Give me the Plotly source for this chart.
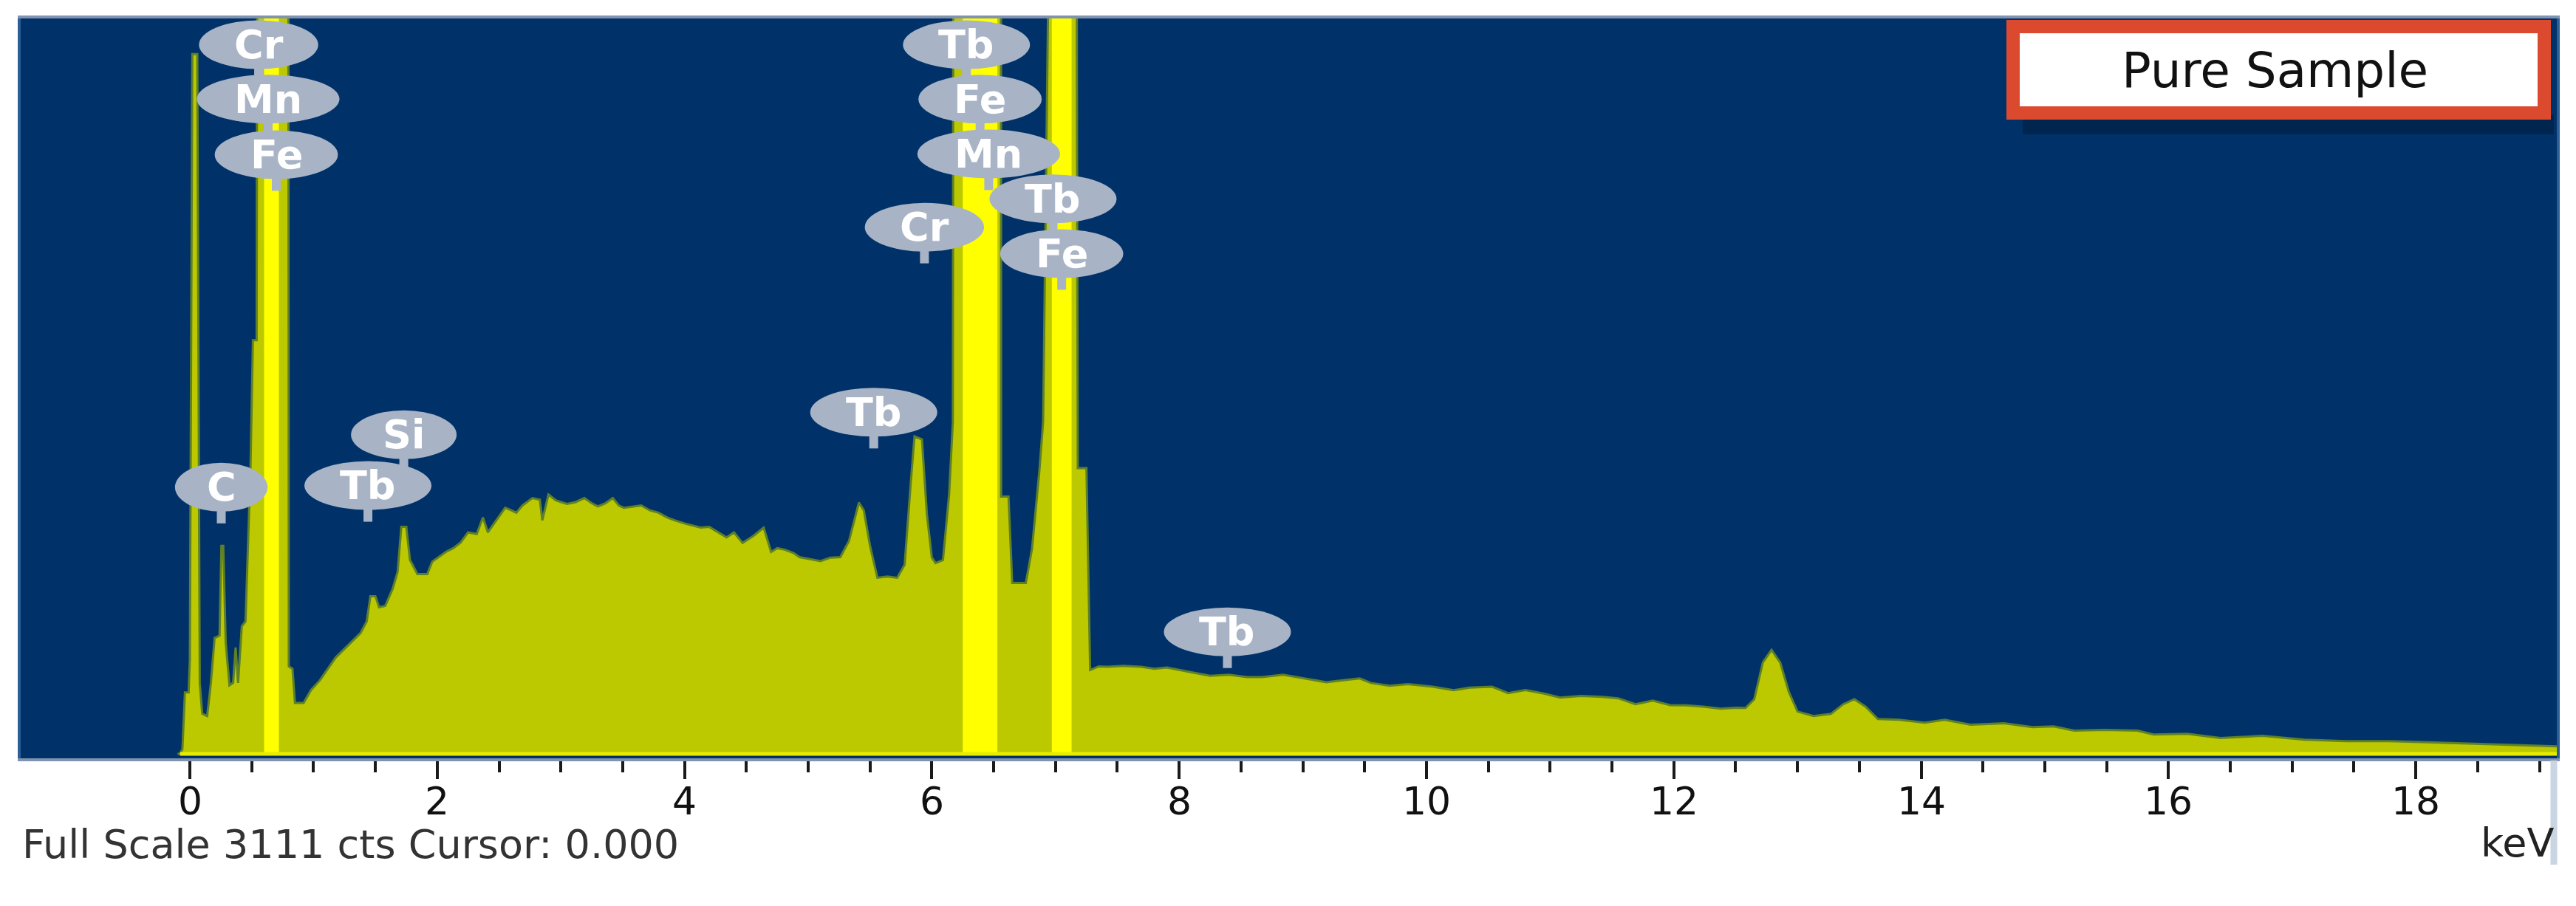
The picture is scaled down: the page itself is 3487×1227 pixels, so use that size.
import plotly.graph_objects as go

# ---------------- data ----------------
full_scale = 3111  # cts

energy_kev = [
    -0.10, -0.08, -0.06, -0.04, -0.01, 0.00, 0.02, 0.06, 0.08, 0.10, 0.14, 0.17, 0.20, 0.24,
    0.255, 0.27, 0.29, 0.32, 0.35, 0.37, 0.39, 0.42, 0.45, 0.47, 0.49, 0.51, 0.54, 0.56,
    0.79, 0.80, 0.83, 0.85, 0.92, 0.98, 1.05, 1.18, 1.28, 1.38, 1.43, 1.46, 1.50, 1.53,
    1.58, 1.64, 1.68, 1.71, 1.75, 1.78, 1.80, 1.84, 1.92, 1.96, 2.07, 2.13, 2.19, 2.25,
    2.32, 2.37, 2.41, 2.48, 2.55, 2.60, 2.64, 2.69, 2.77, 2.83, 2.85, 2.90, 2.96, 3.05,
    3.12, 3.19, 3.25, 3.30, 3.36, 3.42, 3.47, 3.51, 3.58, 3.65, 3.72, 3.79, 3.86, 3.92,
    4.01, 4.07, 4.13, 4.20, 4.24, 4.34, 4.40, 4.47, 4.56, 4.64, 4.70, 4.75, 4.81, 4.88,
    4.93, 5.02, 5.10, 5.18, 5.26, 5.33, 5.38, 5.41, 5.45, 5.50, 5.56, 5.64, 5.72, 5.78,
    5.83, 5.86, 5.92, 5.96, 6.00, 6.03, 6.09, 6.14, 6.17, 6.21, 6.55, 6.56, 6.62, 6.65,
    6.76, 6.81, 6.87, 6.90, 6.95, 7.17, 7.18, 7.25, 7.28, 7.35, 7.42, 7.55, 7.69, 7.80,
    7.90, 7.99, 8.10, 8.25, 8.40, 8.55, 8.67, 8.84, 9.01, 9.19, 9.30, 9.46, 9.55, 9.70,
    9.85, 10.05, 10.22, 10.35, 10.53, 10.66, 10.80, 10.95, 11.08, 11.25, 11.42, 11.55,
    11.69, 11.83, 11.97, 12.10, 12.24, 12.38, 12.50, 12.58, 12.65, 12.72, 12.79, 12.86,
    12.93, 13.00, 13.13, 13.27, 13.37, 13.46, 13.55, 13.65, 13.82, 14.03, 14.19, 14.40,
    14.67, 14.90, 15.07, 15.24, 15.48, 15.75, 15.88, 16.15, 16.42, 16.76, 17.10, 17.44,
    17.78, 18.12, 18.45, 18.79, 19.14,
]
counts = [
    0, 0, 20, 260, 260, 400, 2960, 2960, 300, 170, 160, 300, 490, 500,
    880, 880, 470, 290, 300, 450, 300, 540, 560, 900, 1200, 1750, 1750, 9500,
    9500, 370, 360, 215, 215, 270, 310, 408, 460, 511, 560, 667, 667, 620,
    626, 698, 770, 960, 960, 820, 801, 760, 760, 813, 854, 870, 894, 937,
    930, 1000, 937, 988, 1041, 1030, 1020, 1051, 1082, 1075, 988, 1097, 1072, 1057,
    1065, 1082, 1060, 1047, 1060, 1082, 1050, 1041, 1045, 1051, 1030, 1020, 1000, 988,
    973, 965, 957, 960, 947, 916, 937, 892, 923, 957, 854, 870, 864, 850,
    832, 823, 815, 830, 832, 900, 1000, 1063, 1030, 880, 745, 750, 745, 800,
    1150, 1343, 1330, 1013, 830, 807, 820, 1100, 1406, 26000, 26000, 1088, 1088, 723,
    723, 867, 1200, 1406, 3600, 3600, 1209, 1209, 355, 370, 368, 372, 368, 360,
    365, 355, 345, 330, 335, 325, 325, 335, 320, 303, 310, 319, 300, 288,
    295, 284, 269, 280, 284, 257, 270, 255, 238, 245, 241, 235,
    210, 225, 206, 205, 200, 191, 195, 194, 231, 387, 440, 387,
    262, 179, 160, 169, 210, 231, 200, 147, 144, 132, 144, 123,
    129, 113, 116, 98, 101, 98, 82, 85, 67, 76, 60, 54,
    54, 48, 42, 36, 32,
]

# saturated peak cores (drawn bright yellow)
core_lo_kev = [0.60, 6.25, 6.97]
core_hi_kev = [0.72, 6.53, 7.13]
core_counts = [9500, 26000, 3600]

# element markers
label_text = ["Cr", "Mn", "Fe", "C", "Tb", "Si", "Tb", "Cr", "Tb", "Fe", "Mn", "Tb", "Fe", "Tb"]
label_kev = [0.556, 0.633, 0.699, 0.254, 1.44, 1.73, 5.53, 5.94, 6.28, 6.39, 6.46, 6.98, 7.05, 8.39]
label_level = [3000, 2770, 2535, 1128, 1135, 1350, 1445, 2228, 3000, 2770, 2538, 2348, 2116, 516]

tick_vals = [0, 2, 4, 6, 8, 10, 12, 14, 16, 18]
tick_text = ["0", "2", "4", "6", "8", "10", "12", "14", "16", "18"]
minor_step = 0.5
x_range = [-1.368, 19.14]
y_range = [-19, full_scale]

legend_title = "Pure Sample"
footer_text = f"Full Scale {full_scale} cts Cursor: 0.000"
unit_text = "keV"

# ---------------- styling / layout ----------------
W, H = 3487, 1227
ML, MR, MT, MB = 20, 34, 17, 208
PW, PH = W - ML - MR, H - MT - MB
kev_per_px = (x_range[1] - x_range[0]) / PW
cnt_per_px = (y_range[1] - y_range[0]) / PH

BG = "#003269"
FILL = "#BCC800"
EDGE = "#5E8028"
CORE = "#FFFF00"
BUBBLE = "#A8B4C6"
FONT = "DejaVu Sans"

fig = go.Figure()

fig.add_trace(go.Scatter(
    x=energy_kev, y=counts, mode="lines", fill="tozeroy",
    fillcolor=FILL, line=dict(color=EDGE, width=3), hoverinfo="skip",
))
for lo, hi, c in zip(core_lo_kev, core_hi_kev, core_counts):
    fig.add_trace(go.Scatter(
        x=[lo, lo, hi, hi], y=[0, c, c, 0], mode="lines", fill="toself",
        fillcolor=CORE, line=dict(width=0, color=CORE), hoverinfo="skip",
    ))
fig.add_trace(go.Scatter(
    x=[energy_kev[1], energy_kev[-1]], y=[0, 0], mode="lines",
    line=dict(color="#E8EC00", width=5), hoverinfo="skip",
))

shapes = []
annotations = []


def px_x(p):
    return (p - ML) / PW


def px_y(p):
    return (H - MB - p) / PH


# element bubbles
char_w = {"C": .72, "r": .41, "M": .86, "n": .63, "F": .57, "e": .62, "T": .61, "b": .64, "S": .64, "i": .28}
for t, k, lv in zip(label_text, label_kev, label_level):
    wpx = 62 + 88 * sum(char_w.get(c, .6) for c in t)
    hw = wpx / 2 * kev_per_px
    hh = 33 * cnt_per_px
    shapes.append(dict(type="rect", xref="x", yref="y",
                       x0=k - 6 * kev_per_px, x1=k + 6 * kev_per_px,
                       y0=lv - hh - 16 * cnt_per_px, y1=lv - hh + 4 * cnt_per_px,
                       fillcolor=BUBBLE, line=dict(width=0)))
    shapes.append(dict(type="circle", xref="x", yref="y",
                       x0=k - hw, x1=k + hw, y0=lv - hh, y1=lv + hh,
                       fillcolor=BUBBLE, line=dict(width=0)))
    annotations.append(dict(x=k, y=lv, xref="x", yref="y", text=t, showarrow=False,
                            font=dict(family=FONT, size=54, color="white", weight="bold"),
                            xanchor="center", yanchor="middle"))

# tick labels of the energy axis
for v, s in zip(tick_vals, tick_text):
    annotations.append(dict(x=v, y=px_y(1077), xref="x", yref="paper", text=s,
                            showarrow=False, xanchor="center", yanchor="middle",
                            font=dict(family=FONT, size=52, color="#111111")))

# legend box "Pure Sample"
shapes.append(dict(type="rect", xref="paper", yref="paper",
                   x0=px_x(2730), x1=px_x(3449), y0=px_y(174), y1=px_y(148),
                   fillcolor="#001B3A", opacity=0.55, line=dict(width=0)))
shapes.append(dict(type="rect", xref="paper", yref="paper",
                   x0=px_x(2717), x1=px_x(3436), y0=px_y(145), y1=px_y(28),
                   fillcolor="white", line=dict(color="#DB4A2E", width=18)))
annotations.append(dict(x=px_x(3071), y=px_y(88), xref="paper", yref="paper",
                        text=legend_title, showarrow=False,
                        font=dict(family=FONT, size=66, color="#111111"),
                        xanchor="center", yanchor="middle"))

# light frame strip at the lower right
shapes.append(dict(type="line", xref="paper", yref="paper",
                   x0=px_x(3449), x1=px_x(3449), y0=px_y(1022), y1=px_y(1163),
                   line=dict(color="#C9D5E2", width=9)))

annotations.append(dict(x=0, y=px_y(1135), xref="paper", yref="paper",
                        text=footer_text, showarrow=False,
                        font=dict(family=FONT, size=54, color="#333333"),
                        xanchor="left", yanchor="middle"))
annotations.append(dict(x=px_x(3452), y=px_y(1133), xref="paper", yref="paper",
                        text=unit_text, showarrow=False,
                        font=dict(family=FONT, size=54, color="#222222"),
                        xanchor="right", yanchor="middle"))

n_minor = int(x_range[1] / minor_step)
minor_vals = [i * minor_step for i in range(n_minor + 1)]

fig.update_layout(
    width=W, height=H,
    margin=dict(l=ML, r=MR, t=MT, b=MB),
    paper_bgcolor="white", plot_bgcolor=BG,
    showlegend=False,
    shapes=shapes, annotations=annotations,
    xaxis=dict(range=x_range, tickvals=tick_vals, showticklabels=False,
               ticks="outside", ticklen=24, tickwidth=4, tickcolor="#1A1A1A",
               showgrid=False, zeroline=False,
               showline=True, linecolor="#8193AE", linewidth=4, mirror=True,
               minor=dict(tickvals=minor_vals, ticks="outside", ticklen=15,
                          tickwidth=4, tickcolor="#1A1A1A", showgrid=False)),
    yaxis=dict(range=y_range, showticklabels=False, ticks="", showgrid=False,
               zeroline=False, showline=True, linecolor="#2B5E94", linewidth=4,
               mirror=True),
)

fig.write_html("out.html")
